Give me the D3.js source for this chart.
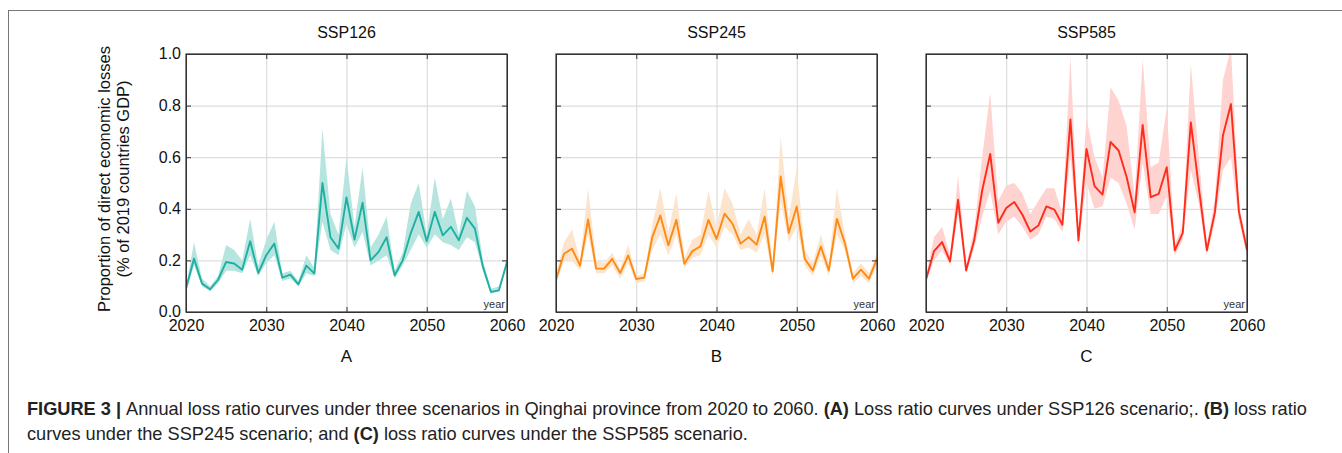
<!DOCTYPE html>
<html>
<head>
<meta charset="utf-8">
<script src="https://cdn.jsdelivr.net/npm/d3@7"></script>
<style>
  body { margin: 0; background: #fff; }
  svg { display: block; }
</style>
</head>
<body>
<div id="chart"></div>
<script>
// Annual loss ratio under three SSP scenarios (Qinghai, 2020-2060)

const years = d3.range(2020, 2061);
const xTicks = [2020, 2030, 2040, 2050, 2060];
const yTicks = [0, 0.2, 0.4, 0.6, 0.8, 1.0];
const scenarioNames = ["SSP126", "SSP245", "SSP585"];
const panelLetters = ["A", "B", "C"];

// SSP126
const ssp126Mean = [0.09, 0.207, 0.11, 0.088, 0.125, 0.194, 0.188, 0.164, 0.274, 0.151,
  0.22, 0.265, 0.133, 0.145, 0.107, 0.18, 0.149, 0.50, 0.29, 0.246,
  0.444, 0.281, 0.424, 0.20, 0.233, 0.29, 0.142, 0.20, 0.305, 0.388,
  0.274, 0.388, 0.297, 0.33, 0.278, 0.365, 0.323, 0.175, 0.078, 0.084, 0.194];
const ssp126Low = [0.08, 0.18, 0.10, 0.08, 0.11, 0.16, 0.16, 0.15, 0.22, 0.14,
  0.19, 0.22, 0.12, 0.13, 0.10, 0.15, 0.14, 0.35, 0.24, 0.22,
  0.34, 0.25, 0.31, 0.18, 0.20, 0.22, 0.13, 0.18, 0.24, 0.30,
  0.25, 0.30, 0.27, 0.26, 0.24, 0.29, 0.27, 0.16, 0.07, 0.08, 0.18];
const ssp126High = [0.10, 0.27, 0.13, 0.10, 0.14, 0.26, 0.24, 0.20, 0.36, 0.18,
  0.28, 0.35, 0.15, 0.16, 0.12, 0.22, 0.17, 0.71, 0.38, 0.30,
  0.60, 0.33, 0.56, 0.25, 0.30, 0.37, 0.16, 0.23, 0.42, 0.50,
  0.30, 0.52, 0.36, 0.44, 0.30, 0.47, 0.41, 0.20, 0.09, 0.10, 0.20];

// SSP245
const ssp245Mean = [0.125, 0.226, 0.245, 0.18, 0.359, 0.168, 0.168, 0.206, 0.151, 0.219,
  0.128, 0.133, 0.29, 0.374, 0.259, 0.357, 0.187, 0.236, 0.255, 0.357,
  0.283, 0.381, 0.342, 0.265, 0.29, 0.261, 0.37, 0.157, 0.525, 0.306,
  0.409, 0.206, 0.161, 0.254, 0.161, 0.361, 0.267, 0.129, 0.164, 0.129, 0.206];
const ssp245Low = [0.11, 0.20, 0.20, 0.16, 0.30, 0.15, 0.15, 0.18, 0.13, 0.19,
  0.11, 0.12, 0.24, 0.30, 0.22, 0.30, 0.17, 0.21, 0.22, 0.30,
  0.25, 0.33, 0.30, 0.24, 0.25, 0.23, 0.30, 0.14, 0.43, 0.27,
  0.33, 0.18, 0.14, 0.22, 0.14, 0.30, 0.24, 0.11, 0.14, 0.11, 0.18];
const ssp245High = [0.15, 0.27, 0.32, 0.20, 0.48, 0.20, 0.19, 0.23, 0.17, 0.26,
  0.14, 0.15, 0.34, 0.48, 0.31, 0.46, 0.21, 0.28, 0.30, 0.47,
  0.33, 0.48, 0.42, 0.30, 0.36, 0.30, 0.48, 0.18, 0.68, 0.36,
  0.56, 0.24, 0.19, 0.30, 0.19, 0.48, 0.30, 0.15, 0.19, 0.15, 0.23];

// SSP585
const ssp585Mean = [0.125, 0.236, 0.271, 0.196, 0.435, 0.161, 0.277, 0.471, 0.613, 0.346,
  0.403, 0.426, 0.378, 0.312, 0.335, 0.409, 0.397, 0.338, 0.746, 0.277,
  0.632, 0.488, 0.455, 0.659, 0.626, 0.523, 0.386, 0.725, 0.445, 0.458,
  0.561, 0.239, 0.307, 0.735, 0.481, 0.239, 0.387, 0.684, 0.806, 0.387, 0.241];
const ssp585Low = [0.12, 0.20, 0.24, 0.18, 0.38, 0.15, 0.25, 0.37, 0.47, 0.30,
  0.35, 0.37, 0.33, 0.28, 0.30, 0.37, 0.36, 0.31, 0.60, 0.26,
  0.50, 0.40, 0.41, 0.52, 0.50, 0.42, 0.32, 0.58, 0.38, 0.38,
  0.45, 0.22, 0.28, 0.55, 0.42, 0.22, 0.35, 0.55, 0.60, 0.35, 0.22];
const ssp585High = [0.14, 0.29, 0.33, 0.22, 0.53, 0.18, 0.32, 0.60, 0.85, 0.43,
  0.49, 0.50, 0.46, 0.38, 0.43, 0.48, 0.48, 0.38, 0.99, 0.30,
  0.75, 0.60, 0.52, 0.87, 0.82, 0.72, 0.45, 0.98, 0.56, 0.58,
  0.79, 0.26, 0.34, 0.96, 0.60, 0.26, 0.44, 0.90, 1.02, 0.42, 0.26];

const meanSeries = [ssp126Mean, ssp245Mean, ssp585Mean];
const lowSeries = [ssp126Low, ssp245Low, ssp585Low];
const highSeries = [ssp126High, ssp245High, ssp585High];
const lineColors = ["#1fb0a3", "#ff8a12", "#ff2c1c"];
const bandColors = ["#b6e5df", "#fde4cd", "#ffd3cf"];

const width = 1342, height = 453;
const panelLeft = [186, 556, 926];
const panelW = 321, plotTop = 54, plotBottom = 312;
const font = "'Liberation Sans', Arial, sans-serif";

const svg = d3.select("#chart").append("svg")
  .attr("width", width)
  .attr("height", height);

// outer frame: top and left only
svg.append("line").attr("x1", 8).attr("x2", width).attr("y1", 10.5).attr("y2", 10.5)
  .attr("stroke", "#777").attr("stroke-width", 1);
svg.append("line").attr("x1", 8.5).attr("x2", 8.5).attr("y1", 10).attr("y2", height)
  .attr("stroke", "#777").attr("stroke-width", 1);

const y = d3.scaleLinear().domain([0, 1]).range([plotBottom, plotTop]);

scenarioNames.forEach((name, i) => {
  const x = d3.scaleLinear().domain([2020, 2060]).range([panelLeft[i], panelLeft[i] + panelW]);
  const g = svg.append("g");
  const clipId = "clip" + i;

  g.append("clipPath").attr("id", clipId)
    .append("rect")
    .attr("x", x(2020)).attr("y", y(1))
    .attr("width", x(2060) - x(2020)).attr("height", y(0) - y(1));

  // grid
  g.append("g").selectAll("line")
    .data(xTicks.slice(1, -1))
    .join("line")
    .attr("x1", d => x(d) + 0.5).attr("x2", d => x(d) + 0.5)
    .attr("y1", y(1)).attr("y2", y(0))
    .attr("stroke", "#d6d6d6");
  g.append("g").selectAll("line")
    .data(yTicks.slice(1, -1))
    .join("line")
    .attr("x1", x(2020)).attr("x2", x(2060))
    .attr("y1", d => y(d) + 0.5).attr("y2", d => y(d) + 0.5)
    .attr("stroke", "#d6d6d6");

  const data = years.map((yr, k) => ({ yr, m: meanSeries[i][k], lo: lowSeries[i][k], hi: highSeries[i][k] }));

  const area = d3.area()
    .x(d => x(d.yr))
    .y0(d => y(d.lo))
    .y1(d => y(d.hi));
  const line = d3.line()
    .x(d => x(d.yr))
    .y(d => y(d.m));

  g.append("path")
    .datum(data)
    .attr("clip-path", `url(#${clipId})`)
    .attr("d", area)
    .attr("fill", bandColors[i]);

  g.append("path")
    .datum(data)
    .attr("clip-path", `url(#${clipId})`)
    .attr("d", line)
    .attr("fill", "none")
    .attr("stroke", lineColors[i])
    .attr("stroke-width", 1.9)
    .attr("stroke-linejoin", "round");

  // axes with inward ticks on all four sides
  const xAxis = d3.axisBottom(x).tickValues(xTicks).tickSizeInner(-5).tickSizeOuter(0).tickFormat(d3.format("d"));
  const xTop = d3.axisTop(x).tickValues(xTicks).tickSizeInner(-5).tickSizeOuter(0).tickFormat("");
  const yAxis = d3.axisLeft(y).tickValues(yTicks).tickSizeInner(-5).tickSizeOuter(0).tickFormat(d3.format(".1f"));
  const yRight = d3.axisRight(y).tickValues(yTicks).tickSizeInner(-5).tickSizeOuter(0).tickFormat("");

  const gx = g.append("g").attr("transform", `translate(0,${y(0)})`).call(xAxis);
  gx.selectAll("text").attr("dy", "0.9em").attr("y", 5);
  g.append("g").attr("transform", `translate(0,${y(1)})`).call(xTop);
  const gy = g.append("g").attr("transform", `translate(${x(2020)},0)`).call(yAxis);
  gy.selectAll("text").attr("x", -5).attr("dy", "0.3em");
  g.append("g").attr("transform", `translate(${x(2060)},0)`).call(yRight);

  if (i > 0) gy.selectAll("text").remove();

  g.selectAll(".domain").attr("stroke", "#333");
  g.selectAll(".tick line").attr("stroke", "#333");
  g.selectAll(".tick text")
    .attr("font-family", font).attr("font-size", 16).attr("fill", "#111");

  // box
  g.append("rect")
    .attr("x", x(2020)).attr("y", y(1))
    .attr("width", x(2060) - x(2020)).attr("height", y(0) - y(1))
    .attr("fill", "none").attr("stroke", "#333").attr("stroke-width", 1.2);

  g.append("text")
    .attr("x", x(2060) - 2).attr("y", y(0) - 4)
    .attr("text-anchor", "end")
    .attr("font-family", font).attr("font-size", 11).attr("fill", "#333")
    .text("year");

  g.append("text")
    .attr("x", (x(2020) + x(2060)) / 2).attr("y", 38)
    .attr("text-anchor", "middle")
    .attr("font-family", font).attr("font-size", 16).attr("fill", "#111")
    .text(name);

  g.append("text")
    .attr("x", (x(2020) + x(2060)) / 2).attr("y", 362)
    .attr("text-anchor", "middle")
    .attr("font-family", font).attr("font-size", 17).attr("fill", "#111")
    .text(panelLetters[i]);
});

// y axis title
const yTitle = svg.append("text")
  .attr("transform", `translate(110,${(plotTop + plotBottom) / 2 - 4}) rotate(-90)`)
  .attr("text-anchor", "middle")
  .attr("font-family", font).attr("font-size", 16.5).attr("fill", "#111");
yTitle.append("tspan").attr("x", 0).attr("dy", 0).text("Proportion of direct economic losses");
yTitle.append("tspan").attr("x", 0).attr("dy", 19).text("(% of 2019 countries GDP)");

// caption
const cap1 = svg.append("text").attr("x", 27).attr("y", 415)
  .attr("font-family", font).attr("font-size", 18.2).attr("fill", "#222");
cap1.append("tspan").attr("font-weight", "bold").text("FIGURE 3 | ");
cap1.append("tspan").text("Annual loss ratio curves under three scenarios in Qinghai province from 2020 to 2060. ");
cap1.append("tspan").attr("font-weight", "bold").text("(A)");
cap1.append("tspan").text(" Loss ratio curves under SSP126 scenario;. ");
cap1.append("tspan").attr("font-weight", "bold").text("(B)");
cap1.append("tspan").text(" loss ratio");

const cap2 = svg.append("text").attr("x", 27).attr("y", 440)
  .attr("font-family", font).attr("font-size", 18.2).attr("fill", "#222");
cap2.append("tspan").text("curves under the SSP245 scenario; and ");
cap2.append("tspan").attr("font-weight", "bold").text("(C)");
cap2.append("tspan").text(" loss ratio curves under the SSP585 scenario.");
</script>
</body>
</html>
